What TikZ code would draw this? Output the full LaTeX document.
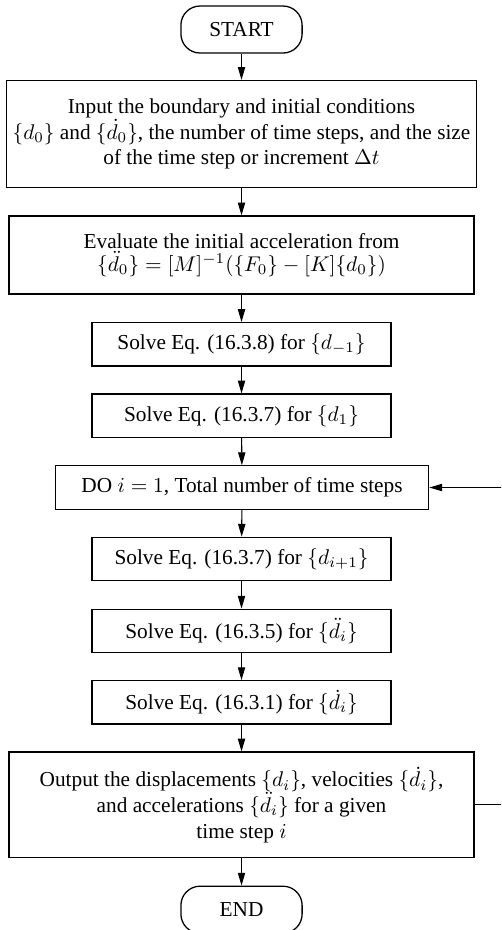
\documentclass[tikz,border=0pt]{standalone}
\usepackage{amsmath}
\usepackage{fontspec}
\setmainfont{Liberation Serif}
\usetikzlibrary{arrows.meta,positioning}

\begin{document}
\begin{tikzpicture}[line width=0.6pt,stepbox/.style={draw,align=center,inner sep=3pt},widebox/.style={stepbox,minimum width=7.67cm},solvebox/.style={stepbox,minimum width=4.93cm,minimum height=0.715cm},terminal/.style={draw,rounded corners=9pt,minimum width=2.0cm,minimum height=0.776cm},arr/.style={-{Triangle[length=6pt,width=3.4pt]},line width=0.5pt}]
\clip (0,0) rectangle (8.2665,-15.345);
\node[terminal] (start) at (3.985,-0.487){START};
\node[widebox,minimum height=1.766cm] (input) at (3.985,-2.211){Input the boundary and initial conditions\\\(\{d_0\}\) and \(\{\dot{d}_0\}\), the number of time steps, and the size\\of the time step or increment \(\Delta t\)};
\node[widebox,minimum height=1.287cm] (accel) at (3.985,-4.208){Evaluate the initial acceleration from\\[-1pt]\(\{\ddot{d}_0\}=[M]^{-1}(\{F_0\}-[K]\{d_0\})\)};
\node[solvebox] (solveneg) at (3.985,-5.681){Solve Eq. (16.3.8) for \(\{d_{-1}\}\)};
\node[solvebox] (solveone) at (3.985,-6.859){Solve Eq. (16.3.7) for \(\{d_1\}\)};
\node[stepbox,minimum width=6.16cm,minimum height=0.715cm] (doloop) at (3.993,-8.044){DO \(i=1\), Total number of time steps};
\node[solvebox] (solvenext) at (3.985,-9.224){Solve Eq. (16.3.7) for \(\{d_{i+1}\}\)};
\node[solvebox] (solveacc) at (3.985,-10.41){Solve Eq. (16.3.5) for \(\{\ddot{d}_i\}\)};
\node[solvebox] (solvevel) at (3.985,-11.59){Solve Eq. (16.3.1) for \(\{\dot{d}_i\}\)};
\node[widebox,minimum height=1.74cm] (output) at (3.985,-13.28){Output the displacements \(\{d_i\}\), velocities \(\{\dot{d}_i\}\),\\and accelerations \(\{\ddot{d}_i\}\) for a given\\time step \(i\)};
\node[terminal] (finish) at (3.985,-15.01){END};
\coordinate (loopback) at (8.4,-13.28);
\draw[arr] (start) -- (input);\draw[arr] (input) -- (accel);\draw[arr] (accel) -- (solveneg);\draw[arr] (solveneg) -- (solveone);\draw[arr] (solveone) -- (doloop);\draw[arr] (doloop) -- (solvenext);\draw[arr] (solvenext) -- (solveacc);\draw[arr] (solveacc) -- (solvevel);\draw[arr] (solvevel) -- (output);\draw[arr] (output) -- (finish);
\draw[arr] (output.east) -- (loopback) |- (doloop.east);
\end{tikzpicture}
\end{document}
